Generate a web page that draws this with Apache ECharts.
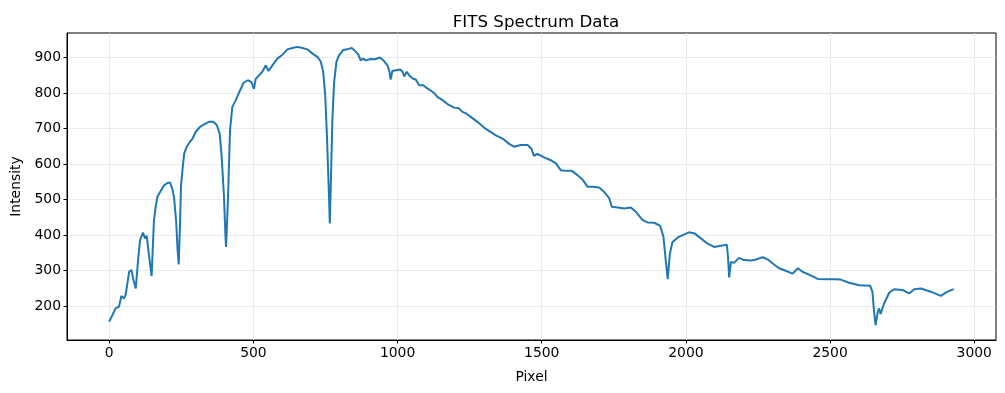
<!DOCTYPE html>
<html>
<head>
<meta charset="utf-8">
<script src="https://cdn.jsdelivr.net/npm/echarts@6/dist/echarts.min.js"></script>
<style>
html,body{margin:0;padding:0;background:#fff;}
#chart{width:1005px;height:393px;}
</style>
</head>
<body>
<div id="chart"></div>
<script>
const pixelX = [0,11,22,34,42,51,57,69,77,84,92,100,107,117,124,130,137,147,155,161,167,179,190,202,211,219,225,232,237,241,245,249,254,260,269,280,289,300,315,329,346,361,373,383,390,398,403,405,408,412,419,427,439,454,466,481,493,502,508,512,531,543,552,566,583,601,618,635,653,670,687,705,722,734,742,749,755,762,765,769,774,780,788,797,811,826,841,853,864,872,880,890,907,922,939,953,965,971,976,982,994,1009,1017,1023,1032,1040,1052,1063,1075,1090,1098,1113,1127,1138,1156,1173,1196,1213,1225,1237,1254,1277,1306,1341,1364,1387,1404,1427,1451,1464,1473,1485,1508,1531,1549,1566,1583,1604,1624,1643,1659,1676,1699,1716,1734,1743,1763,1786,1809,1826,1849,1867,1890,1911,1922,1930,1937,1944,1953,1971,1990,2011,2030,2052,2075,2098,2121,2142,2146,2150,2156,2167,2184,2202,2223,2237,2266,2283,2300,2323,2346,2370,2389,2404,2427,2457,2491,2514,2537,2566,2601,2639,2647,2653,2658,2665,2670,2675,2686,2705,2722,2751,2774,2792,2815,2849,2884,2907,2929];
const intensity = [157,175,194,199,229,222,232,297,302,274,250,330,386,407,391,398,349,285,440,480,508,525,540,547,548,530,505,440,360,318,420,540,583,630,649,663,672,691,705,712,719,719,710,686,621,508,400,367,420,508,696,761,780,808,829,836,831,812,840,845,860,878,862,878,897,908,923,927,930,927,923,911,902,888,860,794,682,513,433,560,728,831,888,906,921,923,927,918,908,892,897,892,896,895,900,890,878,864,838,862,864,866,860,847,860,850,841,838,822,822,816,808,800,789,780,769,759,757,747,743,733,719,699,681,672,657,649,654,654,644,623,629,619,611,602,583,581,581,569,555,536,536,534,522,504,480,478,475,478,466,443,436,435,426,396,330,276,345,380,393,401,408,405,391,376,367,370,373,339,281,325,322,336,330,329,330,338,332,321,307,300,292,307,297,289,277,276,276,275,266,259,258,240,180,147,183,194,178,205,238,248,246,236,248,250,241,229,241,248];
const xTicks = [0,500,1000,1500,2000,2500,3000];
const yTicks = [200,300,400,500,600,700,800,900];
const titleText = 'FITS Spectrum Data';
const xLabel = 'Pixel';
const yLabel = 'Intensity';

const data = pixelX.map((x,i)=>[x,intensity[i]]);
const font = 'DejaVu Sans';
const chart = echarts.init(document.getElementById('chart'), null, {renderer:'canvas'});
chart.setOption({
  animation:false,
  backgroundColor:'#ffffff',
  title:{text:titleText,left:531,top:9,textAlign:'center',
    textStyle:{fontFamily:font,fontSize:16.7,fontWeight:'normal',color:'#000'}},
  grid:{left:67,top:33,width:929,height:307,show:true,borderColor:'#000',borderWidth:1,backgroundColor:'transparent'},
  xAxis:{type:'value',min:-146.45,max:3075.45,
    name:xLabel,nameLocation:'middle',nameGap:30,
    nameTextStyle:{fontFamily:font,fontSize:13.9,color:'#000'},
    axisLine:{show:true,onZero:false,lineStyle:{color:'#000',width:1}},
    axisTick:{show:true,inside:false,length:3.5,lineStyle:{color:'#000',width:1},customValues:xTicks},
    axisLabel:{fontFamily:font,fontSize:13.9,color:'#000',margin:6,customValues:xTicks,formatter:v=>String(v)},
    splitLine:{show:true,lineStyle:{color:'#e6e6e6',width:0.8},customValues:xTicks}},
  yAxis:{type:'value',min:105,max:969,
    name:yLabel,nameLocation:'middle',nameGap:40,nameRotate:90,
    nameTextStyle:{fontFamily:font,fontSize:13.9,color:'#000'},
    axisLine:{show:true,onZero:false,lineStyle:{color:'#000',width:1}},
    axisTick:{show:true,inside:false,length:3.5,lineStyle:{color:'#000',width:1},customValues:yTicks},
    axisLabel:{fontFamily:font,fontSize:13.9,color:'#000',margin:6,customValues:yTicks,formatter:v=>String(v)},
    splitLine:{show:true,lineStyle:{color:'#e6e6e6',width:0.8},customValues:yTicks}},
  series:[{type:'line',data:data,showSymbol:false,symbol:'none',
    lineStyle:{color:'#1f77b4',width:2},z:3}]
});
</script>
</body>
</html>
